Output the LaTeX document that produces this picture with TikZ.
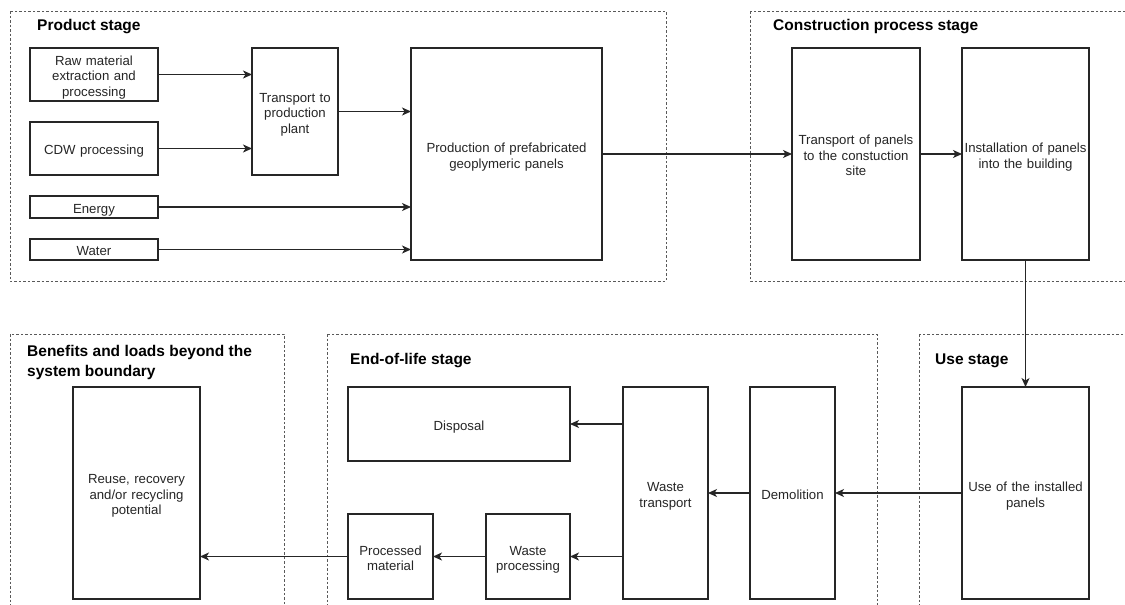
\documentclass[tikz,border=0pt]{standalone}
\usepackage{fontspec}
\setmainfont{Liberation Sans}
\usetikzlibrary{arrows.meta}
\begin{document}
\begin{tikzpicture}[x=1pt,y=-1pt,
  box/.style={draw=black!85, line width=1.2pt, inner sep=0pt, outer sep=0pt, anchor=north west,
    align=center, text width=#1, font=\fontsize{13.2}{15.5}\selectfont, text=black!85,
    execute at begin node={\rule[-3pt]{0pt}{18.5pt}},
    execute at end node={\rule[-3pt]{0pt}{3pt}}},
  frame/.style={draw=black!65, line width=0.9pt, dash pattern=on 2.5pt off 2pt},
  stagetitle/.style={anchor=west, inner sep=0pt, align=left, font=\fontsize{15.5}{20}\selectfont\bfseries},
  arr/.style={draw=black!85, line width=1.2pt, -{Stealth[length=9pt,width=8pt,inset=2.5pt]}}]
\path[use as bounding box] (0,0) rectangle (1125,605);
\clip (0,0) rectangle (1125,605);
\fill[white] (0,0) rectangle (1125,605);
% stage frames
\draw[frame] (10,11) rectangle (666,281);
\draw[frame] (750,11) rectangle (1140,281);
\draw[frame] (10,334) rectangle (284,620);
\draw[frame] (327,334) rectangle (877,620);
\draw[frame] (919,334) rectangle (1140,620);
% titles
\node[stagetitle] (tprod) at (37,27) {Product stage};
\node[stagetitle] (tcons) at (773,27) {Construction process stage};
\node[stagetitle] (tben) at (27,362) {Benefits and loads beyond the\\system boundary};
\node[stagetitle] (teol) at (350,361) {End-of-life stage};
\node[stagetitle] (tuse) at (935,361) {Use stage};
% product stage
\node[box=128pt, minimum height=53] (raw) at (30,48) {Raw material\\extraction and\\processing};
\node[box=128pt, minimum height=53] (cdw) at (30,122) {CDW processing};
\node[box=128pt, minimum height=22] (energy) at (30,196) {Energy};
\node[box=128pt, minimum height=21] (water) at (30,239) {Water};
\node[box=86pt, minimum height=127] (tpp) at (252,48) {Transport to\\production\\plant};
\node[box=191pt, minimum height=212] (prod) at (411,48) {Production of prefabricated\\geoplymeric panels};
% construction
\node[box=128pt, minimum height=212] (tps) at (792,48) {Transport of panels\\to the constuction\\site};
\node[box=127pt, minimum height=212] (inst) at (962,48) {Installation of panels\\into the building};
% use
\node[box=127pt, minimum height=212] (use) at (962,387) {Use of the installed\\panels};
% end of life
\node[box=85pt, minimum height=212] (demo) at (750,387) {Demolition};
\node[box=85pt, minimum height=212] (wt) at (623,387) {Waste\\transport};
\node[box=222pt, minimum height=74] (disp) at (348,387) {Disposal};
\node[box=84pt, minimum height=85] (wp) at (486,514) {Waste\\processing};
\node[box=85pt, minimum height=85] (pm) at (348,514) {Processed\\material};
% benefits
\node[box=127pt, minimum height=212] (reuse) at (73,387) {Reuse, recovery\\and/or recycling\\potential};
% connectors
\draw[arr] (raw.east) -- (raw.east -| tpp.west);
\draw[arr] (cdw.east) -- (cdw.east -| tpp.west);
\draw[arr] (tpp.east) -- (tpp.east -| prod.west);
\draw[arr] (energy.east) -- (energy.east -| prod.west);
\draw[arr] (water.east) -- (water.east -| prod.west);
\draw[arr] (prod.east) -- (tps.west);
\draw[arr] (tps.east) -- (inst.west);
\draw[arr] (inst.south) -- (use.north);
\draw[arr] (use.west) -- (demo.east);
\draw[arr] (demo.west) -- (wt.east);
\draw[arr] (wt.west |- disp.east) -- (disp.east);
\draw[arr] (wt.west |- wp.east) -- (wp.east);
\draw[arr] (wp.west) -- (pm.east);
\draw[arr] (pm.west) -- (pm.west -| reuse.east);
\end{tikzpicture}
\end{document}
